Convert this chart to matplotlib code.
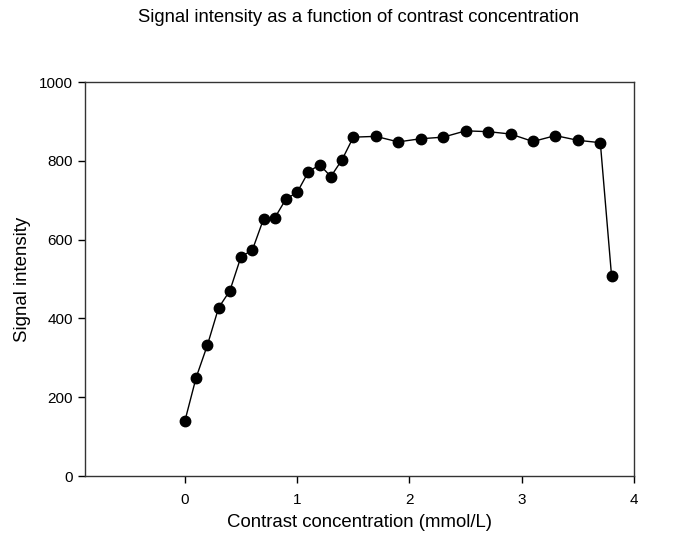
import matplotlib
matplotlib.use("Agg")
import matplotlib.pyplot as plt

plt.rcParams['font.family'] = ['Liberation Sans', 'DejaVu Sans']

# contrast concentration (mmol/L)
conc = [0.0, 0.1, 0.2, 0.3, 0.4, 0.5, 0.6, 0.7, 0.8, 0.9, 1.0, 1.1, 1.2, 1.3, 1.4, 1.5,
        1.7, 1.9, 2.1, 2.3, 2.5, 2.7, 2.9, 3.1, 3.3, 3.5, 3.7, 3.8]
# signal intensity
signal = [140, 250, 332, 427, 470, 557, 573, 652, 655, 703, 720, 772, 790, 760, 803, 860,
          862, 848, 856, 860, 876, 874, 868, 849, 864, 852, 846, 508]

xticks = [0, 1, 2, 3, 4]
yticks = [0, 200, 400, 600, 800, 1000]

fig = plt.figure(figsize=(6.85, 5.44), dpi=100)
ax = fig.add_axes([85/685, 1 - 476/544, (634-85)/685, (476-82)/544])

ax.plot(conc, signal, color='black', linewidth=1, marker='o', markersize=7.5,
        markerfacecolor='black', markeredgecolor='black')

ax.set_xlim(-0.89, 4)
ax.set_ylim(0, 1000)
ax.set_xticks(xticks)
ax.set_yticks(yticks)
ax.tick_params(direction='out', length=5, width=1, labelsize=11)
ax.tick_params(axis='x', pad=7)
for s in ax.spines.values():
    s.set_linewidth(1)
    s.set_color('#333333')

ax.set_xlabel('Contrast concentration (mmol/L)', fontsize=13.4, labelpad=5)
ax.set_ylabel('Signal intensity', fontsize=13.4, labelpad=6)
fig.text(359/685, 1 - 18/544, 'Signal intensity as a function of contrast concentration',
         ha='center', va='center', fontsize=13.3)

fig.savefig('out.png', dpi=100)
